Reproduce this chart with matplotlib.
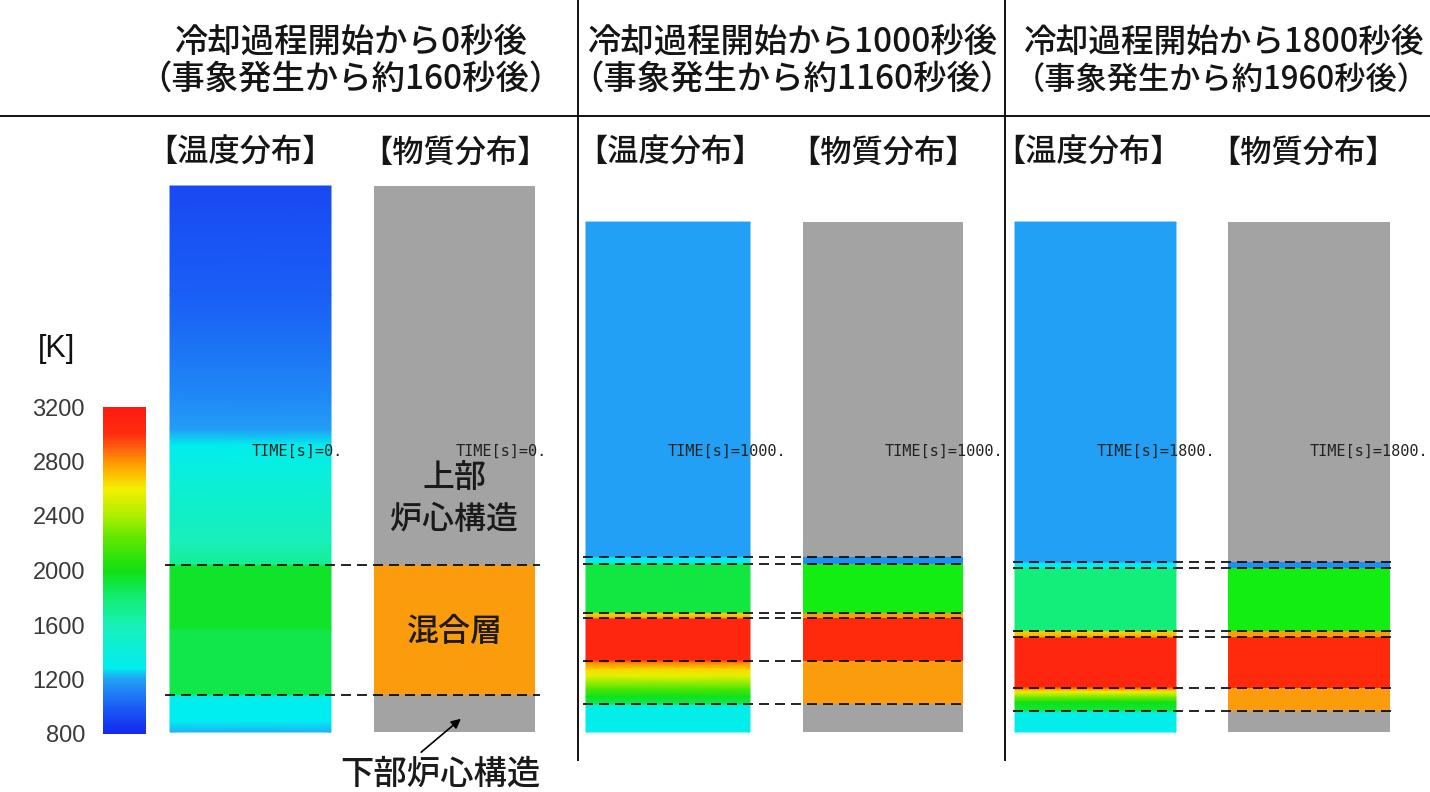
import numpy as np
import matplotlib
matplotlib.use("Agg")
import matplotlib.pyplot as plt
from matplotlib.colors import LinearSegmentedColormap, Normalize
from matplotlib.cm import ScalarMappable
from matplotlib.lines import Line2D

# --------------------------------------------------
# DATA
# --------------------------------------------------
cooling_times = [0, 1000, 1800]          # s after start of cooling
event_times = [160, 1160, 1960]          # s after event
cbar_ticks = [800, 1200, 1600, 2000, 2400, 2800, 3200]
t_min, t_max = 800, 3200

# temperature profiles: relative height (0 = column bottom, 100 = initial top) -> K
temp_h_0 = [0, 2.0, 6.6, 7.0, 18.6, 19.0, 30.4, 30.8, 35.0, 45.0, 52.5, 55.5, 62.0, 80.0, 100.0]
temp_T_0 = [1230, 1280, 1300, 1880, 1880, 1950, 1950, 1700, 1580, 1430, 1300, 1190, 1120, 1000, 930]

temp_h_1000 = [0, 4.9, 5.3, 6.5, 8.0, 10.3, 11.5, 12.8, 13.2, 20.7, 21.0, 21.7, 22.0, 30.6, 31.0, 32.0, 32.2, 93.4]
temp_T_1000 = [1290, 1340, 1880, 1980, 2200, 2560, 2650, 2850, 3060, 3060, 2750, 2650, 1900, 1900, 1300, 1280, 1200, 1200]

temp_h_1800 = [0, 3.6, 4.0, 5.5, 6.5, 7.4, 7.9, 8.3, 17.2, 17.5, 18.4, 18.7, 29.8, 30.2, 30.9, 31.3, 93.4]
temp_T_1800 = [1290, 1340, 1900, 2000, 2300, 2600, 2800, 3060, 3060, 2750, 2650, 1780, 1780, 1300, 1280, 1200, 1200]

# material layers: boundaries (relative height) and layer type between them
mat_bounds_0 = [0, 6.8, 30.6, 100.0]
mat_layers_0 = ["structure", "mixture", "structure"]

mat_bounds_1000 = [0, 5.1, 13.0, 20.9, 21.8, 30.8, 32.05, 93.4]
mat_layers_1000 = ["structure", "mixture", "melt", "mixture", "layer_g", "layer_b", "structure"]

mat_bounds_1800 = [0, 3.8, 8.1, 17.4, 18.5, 30.0, 31.1, 93.4]
mat_layers_1800 = ["structure", "mixture", "melt", "mixture", "layer_g", "layer_b", "structure"]

temp_profiles = [(temp_h_0, temp_T_0), (temp_h_1000, temp_T_1000), (temp_h_1800, temp_T_1800)]
mat_profiles = [(mat_bounds_0, mat_layers_0), (mat_bounds_1000, mat_layers_1000),
                (mat_bounds_1800, mat_layers_1800)]

# --------------------------------------------------
# STYLE / LAYOUT
# --------------------------------------------------
W, H = 1430, 792
BASE_Y = 732                      # pixel row of column bottoms
PX_PER_H = (732 - 186) / 100.0    # pixels per unit of relative height

mat_colors = {
    "structure": "#a3a3a3",
    "mixture": "#fb9c0c",
    "melt": "#ff2a0c",
    "layer_g": "#12ee12",
    "layer_b": "#1e8ef0",
}

temp_cmap = LinearSegmentedColormap.from_list("temp", [
    (0.00, "#1428f0"),
    (0.08, "#1a5cf5"),
    (0.17, "#22a4f6"),
    (0.20, "#00eef0"),
    (0.33, "#18f0b8"),
    (0.42, "#12ec70"),
    (0.50, "#10e010"),
    (0.60, "#60e800"),
    (0.67, "#b0ee00"),
    (0.75, "#f5f000"),
    (0.83, "#ff9a00"),
    (0.88, "#ff5a10"),
    (0.92, "#ff2c10"),
    (1.00, "#ff1a10"),
])
norm = Normalize(t_min, t_max)

temp_x = [(170, 331), (586, 750), (1015, 1176)]
mat_x = [(374, 535), (803, 963), (1228, 1390)]
dash_x = [(165, 540), (583, 965), (1013, 1393)]
temp_title_x = [240, 670, 1088]
mat_title_x = [455, 883, 1303]

JP = ["Noto Sans CJK JP", "DejaVu Sans"]
TXT = "#151515"


def fx(x):
    return x / W


def fy(y):
    return 1 - y / H


def h_of(ypix):
    return (BASE_Y - ypix) / PX_PER_H


fig = plt.figure(figsize=(W / 100, H / 100), dpi=100)
fig.patch.set_facecolor("white")

ax = fig.add_axes([0, 0, 1, 1])
ax.set_xlim(0, W)
ax.set_ylim(h_of(H), h_of(0))
ax.axis("off")

# header placement: (x, ha, size) for line 1 and line 2
header_pos = [
    ((350, "center", 24), (350, "center", 24)),
    ((792, "center", 24), (792, "center", 24)),
    ((1024, "left", 23.5), (1014, "left", 22.5)),
]

for i in range(3):
    # temperature column
    hs, ts = temp_profiles[i]
    x0, x1 = temp_x[i]
    X = np.array([[x0, x1]] * len(hs), dtype=float)
    Y = np.array([[h, h] for h in hs], dtype=float)
    C = np.array([[t, t] for t in ts], dtype=float)
    ax.pcolormesh(X, Y, C, shading="gouraud", cmap=temp_cmap, norm=norm)

    # material column
    bounds, layers = mat_profiles[i]
    m0, m1 = mat_x[i]
    for b0, b1, layer in zip(bounds[:-1], bounds[1:], layers):
        ax.bar((m0 + m1) / 2, b1 - b0, bottom=b0, width=m1 - m0,
               color=mat_colors[layer], linewidth=0)

    # interface lines
    d0, d1 = dash_x[i]
    for b in bounds[1:-1]:
        ax.plot([d0, d1], [b, b], color="black", lw=1.2, dashes=(6, 3.6))

    # TIME labels
    label = f"TIME[s]={cooling_times[i]}."
    for cx in (temp_x[i][0], mat_x[i][0]):
        fig.text(fx(cx + 82), fy(451), label, fontsize=11, family="DejaVu Sans Mono",
                 color="#222222", ha="left", va="center")

    # headers
    (x1h, ha1, s1), (x2h, ha2, s2) = header_pos[i]
    fig.text(fx(x1h), fy(42), f"冷却過程開始から{cooling_times[i]}秒後",
             fontsize=s1, family=JP, weight="medium", ha=ha1, va="center", color=TXT)
    fig.text(fx(x2h), fy(80), f"（事象発生から約{event_times[i]}秒後）",
             fontsize=s2, family=JP, weight="medium", ha=ha2, va="center", color=TXT)

    fig.text(fx(temp_title_x[i]), fy(153), "【温度分布】", fontsize=22.5, family=JP,
             weight="medium", ha="center", va="center", color=TXT)
    fig.text(fx(mat_title_x[i]), fy(153), "【物質分布】", fontsize=22.5, family=JP,
             weight="medium", ha="center", va="center", color=TXT)

# frame lines
fig.add_artist(Line2D([0, 1], [fy(116), fy(116)], color="#111111", lw=1.4))
for vx in (578, 1005):
    fig.add_artist(Line2D([fx(vx), fx(vx)], [fy(0), fy(760)], color="#111111", lw=1.4))

# region labels on the first material column
fig.text(fx(454), fy(478), "上部", fontsize=23, family=JP, weight="medium",
         ha="center", va="center", color="#1a1a1a")
fig.text(fx(454), fy(520), "炉心構造", fontsize=23, family=JP, weight="medium",
         ha="center", va="center", color="#1a1a1a")
fig.text(fx(455), fy(632), "混合層", fontsize=23, family=JP, weight="medium",
         ha="center", va="center", color="#1a1a1a")
fig.text(fx(440), fy(774), "下部炉心構造", fontsize=24, family=JP, weight="medium",
         ha="center", va="center", color="#1a1a1a")
ax.annotate("", xy=(fx(463), fy(717)), xytext=(fx(419), fy(754)),
            xycoords="figure fraction", textcoords="figure fraction",
            arrowprops=dict(arrowstyle="-|>", color="black", lw=1.2, mutation_scale=14))

# colorbar
fig.text(fx(56), fy(349), "[K]", fontsize=22, family="Liberation Sans", ha="center",
         va="center", color="#111111")
cax = fig.add_axes([fx(103), fy(734), (146 - 103) / W, (734 - 407) / H])
sm = ScalarMappable(norm=norm, cmap=temp_cmap)
cb = fig.colorbar(sm, cax=cax, ticks=cbar_ticks)
cb.outline.set_visible(False)
cax.yaxis.set_ticks_position("left")
cax.tick_params(length=0, pad=13, labelsize=17, labelcolor="#3a3a3a")
for lab in cax.get_yticklabels():
    lab.set_family("Liberation Sans")

fig.savefig("out.png", dpi=100)
